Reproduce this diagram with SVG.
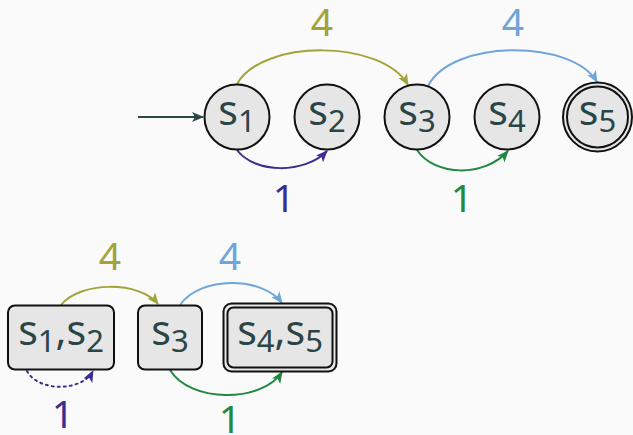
<svg xmlns="http://www.w3.org/2000/svg" width="633" height="435" viewBox="0 0 633 435">
  <style>
    .node { fill: #e6e6e6; stroke: #111; stroke-width: 2; }
    .lbl { font-family: "Noto Sans", "Open Sans", sans-serif; fill: #2b4547; text-anchor: middle; font-size: 41px; }
    .sub { font-size: 31px; }
    .w { font-family: "Noto Sans", "Open Sans", sans-serif; text-anchor: middle; font-size: 39px; }
    .e { fill: none; stroke-width: 2; }
  </style>
  <defs>
    <marker id="ah-init" markerUnits="userSpaceOnUse" viewBox="0 0 12 10" refX="11" refY="5" markerWidth="12" markerHeight="10" orient="auto"><path d="M0,0 L12,5 L0,10 L3,5 Z" fill="#2d4747"/></marker>
    <marker id="ah-olive" markerUnits="userSpaceOnUse" viewBox="0 0 12 10" refX="11" refY="5" markerWidth="12" markerHeight="10" orient="auto"><path d="M0,0 L12,5 L0,10 L3,5 Z" fill="#a2a33a"/></marker>
    <marker id="ah-blue" markerUnits="userSpaceOnUse" viewBox="0 0 12 10" refX="11" refY="5" markerWidth="12" markerHeight="10" orient="auto"><path d="M0,0 L12,5 L0,10 L3,5 Z" fill="#6fa5d8"/></marker>
    <marker id="ah-purple" markerUnits="userSpaceOnUse" viewBox="0 0 12 10" refX="11" refY="5" markerWidth="12" markerHeight="10" orient="auto"><path d="M0,0 L12,5 L0,10 L3,5 Z" fill="#3a2e92"/></marker>
    <marker id="ah-green" markerUnits="userSpaceOnUse" viewBox="0 0 12 10" refX="11" refY="5" markerWidth="12" markerHeight="10" orient="auto"><path d="M0,0 L12,5 L0,10 L3,5 Z" fill="#1f8a3e"/></marker>
  </defs>

  <rect width="633" height="435" fill="#fafafa"/>

  <!-- connectors -->
  <g id="connectors">
    <!-- automaton -->
    <path class="e" d="M138,117 L203,117" stroke="#2d4747" marker-end="url(#ah-init)"/>
    <path class="e" d="M237,84 C262,39 382,39 408,85" stroke="#a2a33a" marker-end="url(#ah-olive)"/>
    <path class="e" d="M428,86 C452,39 572,39 597,82" stroke="#6fa5d8" marker-end="url(#ah-blue)"/>
    <path class="e" d="M237,150 C255,174 305,174 327,151" stroke="#3a2e92" marker-end="url(#ah-purple)"/>
    <path class="e" d="M417,150 C435,177 485,177 508,151" stroke="#1f8a3e" marker-end="url(#ah-green)"/>
    <!-- minimised automaton -->
    <path class="e" d="M61,305 C80,281 140,281 158,304" stroke="#a2a33a" marker-end="url(#ah-olive)"/>
    <path class="e" d="M180,305 C200,276 262,276 282,303" stroke="#6fa5d8" marker-end="url(#ah-blue)"/>
    <path class="e" d="M27,371 C38,392 82,392 93,371" stroke="#3a2e92" stroke-dasharray="2 4" stroke-linecap="round" marker-end="url(#ah-purple)"/>
    <path class="e" d="M170,370 C190,403 262,403 282,372" stroke="#1f8a3e" marker-end="url(#ah-green)"/>

    <!-- weights -->
    <text class="w" x="322" y="36" fill="#a2a33a">4</text>
    <text class="w" x="513" y="36" fill="#6fa5d8">4</text>
    <text class="w" x="284" y="212" fill="#3a2e92">1</text>
    <text class="w" x="462" y="212" fill="#1f8a3e">1</text>
    <text class="w" x="110" y="270" fill="#a2a33a">4</text>
    <text class="w" x="230" y="270" fill="#6fa5d8">4</text>
    <text class="w" x="63" y="428" fill="#3a2e92">1</text>
    <text class="w" x="230" y="433" fill="#1f8a3e">1</text>
  </g>

  <!-- states -->
  <g id="s1">
    <circle class="node" cx="237" cy="117" r="32.5"/>
    <text class="lbl" x="237" y="125">s<tspan class="sub" dy="7">1</tspan></text>
  </g>
  <g id="s2">
    <circle class="node" cx="327" cy="117" r="32.5"/>
    <text class="lbl" x="327" y="125">s<tspan class="sub" dy="7">2</tspan></text>
  </g>
  <g id="s3">
    <circle class="node" cx="417" cy="117" r="32.5"/>
    <text class="lbl" x="417" y="125">s<tspan class="sub" dy="7">3</tspan></text>
  </g>
  <g id="s4">
    <circle class="node" cx="507" cy="117" r="32.5"/>
    <text class="lbl" x="507" y="125">s<tspan class="sub" dy="7">4</tspan></text>
  </g>
  <g id="s5">
    <circle class="node" cx="597.5" cy="117" r="34.5"/>
    <circle class="node" cx="597.5" cy="117" r="30.5"/>
    <text class="lbl" x="597.5" y="125">s<tspan class="sub" dy="7">5</tspan></text>
  </g>

  <!-- merged states -->
  <g id="s1s2">
    <rect class="node" x="8" y="305.5" width="106" height="64" rx="7"/>
    <text class="lbl" x="61" y="345">s<tspan class="sub" dy="7">1</tspan><tspan dy="-7">,s</tspan><tspan class="sub" dy="7">2</tspan></text>
  </g>
  <g id="s3b">
    <rect class="node" x="138" y="305.5" width="64" height="64" rx="7"/>
    <text class="lbl" x="170" y="345">s<tspan class="sub" dy="7">3</tspan></text>
  </g>
  <g id="s4s5">
    <rect class="node" x="223.5" y="303.5" width="113" height="68" rx="8"/>
    <rect class="node" x="227.5" y="307.5" width="105" height="60" rx="6"/>
    <text class="lbl" x="280" y="345">s<tspan class="sub" dy="7">4</tspan><tspan dy="-7">,s</tspan><tspan class="sub" dy="7">5</tspan></text>
  </g>
</svg>
